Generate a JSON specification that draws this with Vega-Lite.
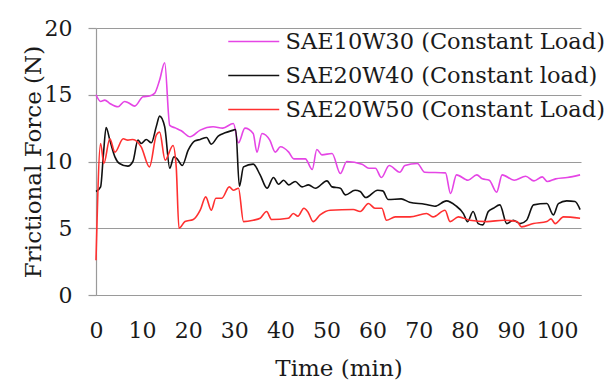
{
  "$schema": "https://vega.github.io/schema/vega-lite/v6.json",
  "width": 485,
  "height": 267,
  "autosize": "none",
  "padding": {"left": 96, "top": 28, "right": 25, "bottom": 87},
  "background": "white",
  "config": {
    "view": {"stroke": null},
    "font": "DejaVu Serif",
    "axis": {"labelFont": "DejaVu Serif", "titleFont": "DejaVu Serif", "labelColor": "#1a1a1a", "titleColor": "#1a1a1a", "titleFontWeight": "normal"},
    "legend": {"labelFont": "DejaVu Serif"}
  },
  "datasets": {
    "friction": [
      {"series": "SAE10W30 (Constant Load)", "time": 0, "force": 15.0},
      {"series": "SAE10W30 (Constant Load)", "time": 1, "force": 14.5},
      {"series": "SAE10W30 (Constant Load)", "time": 1.9, "force": 14.6},
      {"series": "SAE10W30 (Constant Load)", "time": 3, "force": 14.35},
      {"series": "SAE10W30 (Constant Load)", "time": 4.8, "force": 14.1},
      {"series": "SAE10W30 (Constant Load)", "time": 6.2, "force": 14.5},
      {"series": "SAE10W30 (Constant Load)", "time": 7, "force": 14.4},
      {"series": "SAE10W30 (Constant Load)", "time": 8.4, "force": 14.15},
      {"series": "SAE10W30 (Constant Load)", "time": 10.2, "force": 14.85},
      {"series": "SAE10W30 (Constant Load)", "time": 11.6, "force": 14.9},
      {"series": "SAE10W30 (Constant Load)", "time": 12.7, "force": 15.1},
      {"series": "SAE10W30 (Constant Load)", "time": 13.8, "force": 16.1},
      {"series": "SAE10W30 (Constant Load)", "time": 14.9, "force": 17.4},
      {"series": "SAE10W30 (Constant Load)", "time": 16, "force": 12.7},
      {"series": "SAE10W30 (Constant Load)", "time": 17.3, "force": 12.5},
      {"series": "SAE10W30 (Constant Load)", "time": 18.5, "force": 12.3},
      {"series": "SAE10W30 (Constant Load)", "time": 20.4, "force": 11.85},
      {"series": "SAE10W30 (Constant Load)", "time": 22.6, "force": 12.35},
      {"series": "SAE10W30 (Constant Load)", "time": 25.4, "force": 12.6},
      {"series": "SAE10W30 (Constant Load)", "time": 27.5, "force": 12.5},
      {"series": "SAE10W30 (Constant Load)", "time": 29.8, "force": 12.85},
      {"series": "SAE10W30 (Constant Load)", "time": 30.9, "force": 11.4},
      {"series": "SAE10W30 (Constant Load)", "time": 32.3, "force": 12.5},
      {"series": "SAE10W30 (Constant Load)", "time": 34.1, "force": 12.1},
      {"series": "SAE10W30 (Constant Load)", "time": 34.9, "force": 10.7},
      {"series": "SAE10W30 (Constant Load)", "time": 36, "force": 12.1},
      {"series": "SAE10W30 (Constant Load)", "time": 37.7, "force": 11.6},
      {"series": "SAE10W30 (Constant Load)", "time": 38.9, "force": 10.7},
      {"series": "SAE10W30 (Constant Load)", "time": 40, "force": 11.1},
      {"series": "SAE10W30 (Constant Load)", "time": 41.8, "force": 10.7},
      {"series": "SAE10W30 (Constant Load)", "time": 42.9, "force": 10.2},
      {"series": "SAE10W30 (Constant Load)", "time": 45.4, "force": 10.2},
      {"series": "SAE10W30 (Constant Load)", "time": 46.9, "force": 9.4},
      {"series": "SAE10W30 (Constant Load)", "time": 47.9, "force": 10.9},
      {"series": "SAE10W30 (Constant Load)", "time": 49, "force": 10.5},
      {"series": "SAE10W30 (Constant Load)", "time": 51.2, "force": 10.6},
      {"series": "SAE10W30 (Constant Load)", "time": 53, "force": 9.1},
      {"series": "SAE10W30 (Constant Load)", "time": 54.4, "force": 10.0},
      {"series": "SAE10W30 (Constant Load)", "time": 57.7, "force": 9.8},
      {"series": "SAE10W30 (Constant Load)", "time": 59.2, "force": 9.5},
      {"series": "SAE10W30 (Constant Load)", "time": 60.6, "force": 9.5},
      {"series": "SAE10W30 (Constant Load)", "time": 61.9, "force": 8.8},
      {"series": "SAE10W30 (Constant Load)", "time": 63.6, "force": 9.7},
      {"series": "SAE10W30 (Constant Load)", "time": 65.9, "force": 9.2},
      {"series": "SAE10W30 (Constant Load)", "time": 67, "force": 9.7},
      {"series": "SAE10W30 (Constant Load)", "time": 69.7, "force": 9.85},
      {"series": "SAE10W30 (Constant Load)", "time": 71.3, "force": 9.2},
      {"series": "SAE10W30 (Constant Load)", "time": 75.8, "force": 9.15},
      {"series": "SAE10W30 (Constant Load)", "time": 76.9, "force": 7.6},
      {"series": "SAE10W30 (Constant Load)", "time": 78.2, "force": 9.0},
      {"series": "SAE10W30 (Constant Load)", "time": 80.7, "force": 8.6},
      {"series": "SAE10W30 (Constant Load)", "time": 82.6, "force": 9.0},
      {"series": "SAE10W30 (Constant Load)", "time": 83.8, "force": 8.7},
      {"series": "SAE10W30 (Constant Load)", "time": 85.3, "force": 8.6},
      {"series": "SAE10W30 (Constant Load)", "time": 86.9, "force": 7.7},
      {"series": "SAE10W30 (Constant Load)", "time": 88.1, "force": 9.0},
      {"series": "SAE10W30 (Constant Load)", "time": 90.7, "force": 8.6},
      {"series": "SAE10W30 (Constant Load)", "time": 93.2, "force": 8.9},
      {"series": "SAE10W30 (Constant Load)", "time": 95, "force": 8.55},
      {"series": "SAE10W30 (Constant Load)", "time": 96.8, "force": 8.85},
      {"series": "SAE10W30 (Constant Load)", "time": 97.9, "force": 8.5},
      {"series": "SAE10W30 (Constant Load)", "time": 99.7, "force": 8.7},
      {"series": "SAE10W30 (Constant Load)", "time": 102.2, "force": 8.8},
      {"series": "SAE10W30 (Constant Load)", "time": 105, "force": 9.0},

      {"series": "SAE20W40 (Constant load)", "time": 0, "force": 7.75},
      {"series": "SAE20W40 (Constant load)", "time": 1, "force": 8.1},
      {"series": "SAE20W40 (Constant load)", "time": 1.6, "force": 10.5},
      {"series": "SAE20W40 (Constant load)", "time": 2.2, "force": 12.55},
      {"series": "SAE20W40 (Constant load)", "time": 3, "force": 11.6},
      {"series": "SAE20W40 (Constant load)", "time": 4.1, "force": 10.35},
      {"series": "SAE20W40 (Constant load)", "time": 5.1, "force": 9.85},
      {"series": "SAE20W40 (Constant load)", "time": 6.9, "force": 9.65},
      {"series": "SAE20W40 (Constant load)", "time": 8, "force": 10.0},
      {"series": "SAE20W40 (Constant load)", "time": 9.1, "force": 11.6},
      {"series": "SAE20W40 (Constant load)", "time": 9.8, "force": 11.35},
      {"series": "SAE20W40 (Constant load)", "time": 10.9, "force": 11.65},
      {"series": "SAE20W40 (Constant load)", "time": 12, "force": 11.4},
      {"series": "SAE20W40 (Constant load)", "time": 13.1, "force": 12.65},
      {"series": "SAE20W40 (Constant load)", "time": 13.8, "force": 13.4},
      {"series": "SAE20W40 (Constant load)", "time": 14.9, "force": 12.6},
      {"series": "SAE20W40 (Constant load)", "time": 16, "force": 9.5},
      {"series": "SAE20W40 (Constant load)", "time": 16.9, "force": 10.35},
      {"series": "SAE20W40 (Constant load)", "time": 17.6, "force": 10.2},
      {"series": "SAE20W40 (Constant load)", "time": 18.7, "force": 9.7},
      {"series": "SAE20W40 (Constant load)", "time": 20, "force": 10.85},
      {"series": "SAE20W40 (Constant load)", "time": 21.5, "force": 11.55},
      {"series": "SAE20W40 (Constant load)", "time": 22.6, "force": 11.65},
      {"series": "SAE20W40 (Constant load)", "time": 24, "force": 11.8},
      {"series": "SAE20W40 (Constant load)", "time": 25, "force": 11.3},
      {"series": "SAE20W40 (Constant load)", "time": 26.5, "force": 11.9},
      {"series": "SAE20W40 (Constant load)", "time": 28, "force": 12.15},
      {"series": "SAE20W40 (Constant load)", "time": 29.8, "force": 12.35},
      {"series": "SAE20W40 (Constant load)", "time": 30.3, "force": 12.4},
      {"series": "SAE20W40 (Constant load)", "time": 31.1, "force": 8.15},
      {"series": "SAE20W40 (Constant load)", "time": 32, "force": 9.6},
      {"series": "SAE20W40 (Constant load)", "time": 34.1, "force": 9.8},
      {"series": "SAE20W40 (Constant load)", "time": 35.6, "force": 9.0},
      {"series": "SAE20W40 (Constant load)", "time": 37.1, "force": 8.0},
      {"series": "SAE20W40 (Constant load)", "time": 38.5, "force": 8.8},
      {"series": "SAE20W40 (Constant load)", "time": 39.6, "force": 8.3},
      {"series": "SAE20W40 (Constant load)", "time": 40.7, "force": 8.6},
      {"series": "SAE20W40 (Constant load)", "time": 41.8, "force": 8.25},
      {"series": "SAE20W40 (Constant load)", "time": 43.2, "force": 8.5},
      {"series": "SAE20W40 (Constant load)", "time": 44.7, "force": 8.1},
      {"series": "SAE20W40 (Constant load)", "time": 46.1, "force": 8.25},
      {"series": "SAE20W40 (Constant load)", "time": 47.6, "force": 8.0},
      {"series": "SAE20W40 (Constant load)", "time": 50.1, "force": 8.55},
      {"series": "SAE20W40 (Constant load)", "time": 51.2, "force": 8.1},
      {"series": "SAE20W40 (Constant load)", "time": 53, "force": 8.0},
      {"series": "SAE20W40 (Constant load)", "time": 54.1, "force": 7.5},
      {"series": "SAE20W40 (Constant load)", "time": 56.2, "force": 7.85},
      {"series": "SAE20W40 (Constant load)", "time": 57.3, "force": 7.75},
      {"series": "SAE20W40 (Constant load)", "time": 58.5, "force": 7.3},
      {"series": "SAE20W40 (Constant load)", "time": 61.1, "force": 7.85},
      {"series": "SAE20W40 (Constant load)", "time": 62.2, "force": 7.8},
      {"series": "SAE20W40 (Constant load)", "time": 63.4, "force": 7.15},
      {"series": "SAE20W40 (Constant load)", "time": 66.2, "force": 7.2},
      {"series": "SAE20W40 (Constant load)", "time": 68, "force": 6.95},
      {"series": "SAE20W40 (Constant load)", "time": 71.3, "force": 6.8},
      {"series": "SAE20W40 (Constant load)", "time": 73.5, "force": 6.65},
      {"series": "SAE20W40 (Constant load)", "time": 76, "force": 7.05},
      {"series": "SAE20W40 (Constant load)", "time": 78, "force": 6.7},
      {"series": "SAE20W40 (Constant load)", "time": 79.7, "force": 6.1},
      {"series": "SAE20W40 (Constant load)", "time": 80.6, "force": 5.5},
      {"series": "SAE20W40 (Constant load)", "time": 81.8, "force": 6.25},
      {"series": "SAE20W40 (Constant load)", "time": 82.9, "force": 5.35},
      {"series": "SAE20W40 (Constant load)", "time": 83.9, "force": 5.25},
      {"series": "SAE20W40 (Constant load)", "time": 85.1, "force": 6.25},
      {"series": "SAE20W40 (Constant load)", "time": 86.2, "force": 6.5},
      {"series": "SAE20W40 (Constant load)", "time": 87.6, "force": 6.75},
      {"series": "SAE20W40 (Constant load)", "time": 89.1, "force": 5.35},
      {"series": "SAE20W40 (Constant load)", "time": 90.5, "force": 5.6},
      {"series": "SAE20W40 (Constant load)", "time": 92, "force": 5.35},
      {"series": "SAE20W40 (Constant load)", "time": 93.4, "force": 5.6},
      {"series": "SAE20W40 (Constant load)", "time": 94.9, "force": 6.75},
      {"series": "SAE20W40 (Constant load)", "time": 97.8, "force": 6.85},
      {"series": "SAE20W40 (Constant load)", "time": 99.2, "force": 6.0},
      {"series": "SAE20W40 (Constant load)", "time": 100.3, "force": 6.85},
      {"series": "SAE20W40 (Constant load)", "time": 102.1, "force": 7.05},
      {"series": "SAE20W40 (Constant load)", "time": 103.9, "force": 7.0},
      {"series": "SAE20W40 (Constant load)", "time": 105, "force": 6.4},

      {"series": "SAE20W50 (Constant Load)", "time": 0, "force": 2.6},
      {"series": "SAE20W50 (Constant Load)", "time": 1, "force": 11.35},
      {"series": "SAE20W50 (Constant Load)", "time": 1.7, "force": 9.85},
      {"series": "SAE20W50 (Constant Load)", "time": 3, "force": 11.7},
      {"series": "SAE20W50 (Constant Load)", "time": 4.1, "force": 10.7},
      {"series": "SAE20W50 (Constant Load)", "time": 5.9, "force": 11.7},
      {"series": "SAE20W50 (Constant Load)", "time": 6.9, "force": 11.6},
      {"series": "SAE20W50 (Constant Load)", "time": 8, "force": 11.65},
      {"series": "SAE20W50 (Constant Load)", "time": 9.8, "force": 11.1},
      {"series": "SAE20W50 (Constant Load)", "time": 11.6, "force": 9.6},
      {"series": "SAE20W50 (Constant Load)", "time": 13.1, "force": 12.0},
      {"series": "SAE20W50 (Constant Load)", "time": 13.8, "force": 12.2},
      {"series": "SAE20W50 (Constant Load)", "time": 15, "force": 10.1},
      {"series": "SAE20W50 (Constant Load)", "time": 16.7, "force": 11.2},
      {"series": "SAE20W50 (Constant Load)", "time": 17.4, "force": 9.6},
      {"series": "SAE20W50 (Constant Load)", "time": 18, "force": 5.0},
      {"series": "SAE20W50 (Constant Load)", "time": 19.3, "force": 5.5},
      {"series": "SAE20W50 (Constant Load)", "time": 21.1, "force": 5.65},
      {"series": "SAE20W50 (Constant Load)", "time": 22.6, "force": 6.35},
      {"series": "SAE20W50 (Constant Load)", "time": 23.8, "force": 7.35},
      {"series": "SAE20W50 (Constant Load)", "time": 25, "force": 6.35},
      {"series": "SAE20W50 (Constant Load)", "time": 26, "force": 7.25},
      {"series": "SAE20W50 (Constant Load)", "time": 27.3, "force": 7.25},
      {"series": "SAE20W50 (Constant Load)", "time": 28.9, "force": 8.1},
      {"series": "SAE20W50 (Constant Load)", "time": 29.8, "force": 7.85},
      {"series": "SAE20W50 (Constant Load)", "time": 30.9, "force": 8.0},
      {"series": "SAE20W50 (Constant Load)", "time": 32, "force": 5.5},
      {"series": "SAE20W50 (Constant Load)", "time": 34.1, "force": 5.6},
      {"series": "SAE20W50 (Constant Load)", "time": 35.6, "force": 5.75},
      {"series": "SAE20W50 (Constant Load)", "time": 37, "force": 6.25},
      {"series": "SAE20W50 (Constant Load)", "time": 38.1, "force": 5.65},
      {"series": "SAE20W50 (Constant Load)", "time": 41.7, "force": 5.75},
      {"series": "SAE20W50 (Constant Load)", "time": 42.8, "force": 6.1},
      {"series": "SAE20W50 (Constant Load)", "time": 43.8, "force": 5.9},
      {"series": "SAE20W50 (Constant Load)", "time": 45.1, "force": 6.5},
      {"series": "SAE20W50 (Constant Load)", "time": 46, "force": 6.2},
      {"series": "SAE20W50 (Constant Load)", "time": 47.1, "force": 5.5},
      {"series": "SAE20W50 (Constant Load)", "time": 48.6, "force": 6.0},
      {"series": "SAE20W50 (Constant Load)", "time": 50.8, "force": 6.35},
      {"series": "SAE20W50 (Constant Load)", "time": 55.8, "force": 6.4},
      {"series": "SAE20W50 (Constant Load)", "time": 57.3, "force": 6.25},
      {"series": "SAE20W50 (Constant Load)", "time": 59.1, "force": 6.85},
      {"series": "SAE20W50 (Constant Load)", "time": 60.5, "force": 6.5},
      {"series": "SAE20W50 (Constant Load)", "time": 62, "force": 6.5},
      {"series": "SAE20W50 (Constant Load)", "time": 63, "force": 5.6},
      {"series": "SAE20W50 (Constant Load)", "time": 64.9, "force": 5.85},
      {"series": "SAE20W50 (Constant Load)", "time": 68.1, "force": 5.85},
      {"series": "SAE20W50 (Constant Load)", "time": 71.7, "force": 6.1},
      {"series": "SAE20W50 (Constant Load)", "time": 73.1, "force": 5.85},
      {"series": "SAE20W50 (Constant Load)", "time": 75.7, "force": 6.35},
      {"series": "SAE20W50 (Constant Load)", "time": 76.8, "force": 5.5},
      {"series": "SAE20W50 (Constant Load)", "time": 78.6, "force": 5.85},
      {"series": "SAE20W50 (Constant Load)", "time": 81.1, "force": 5.6},
      {"series": "SAE20W50 (Constant Load)", "time": 84.8, "force": 5.5},
      {"series": "SAE20W50 (Constant Load)", "time": 88.4, "force": 5.6},
      {"series": "SAE20W50 (Constant Load)", "time": 91.3, "force": 5.5},
      {"series": "SAE20W50 (Constant Load)", "time": 92.3, "force": 5.1},
      {"series": "SAE20W50 (Constant Load)", "time": 94.9, "force": 5.35},
      {"series": "SAE20W50 (Constant Load)", "time": 97.8, "force": 5.5},
      {"series": "SAE20W50 (Constant Load)", "time": 98.7, "force": 5.7},
      {"series": "SAE20W50 (Constant Load)", "time": 99.6, "force": 5.35},
      {"series": "SAE20W50 (Constant Load)", "time": 101.4, "force": 5.85},
      {"series": "SAE20W50 (Constant Load)", "time": 105, "force": 5.75}
    ]
  },
  "data": {"name": "friction"},
  "mark": {"type": "line", "interpolate": "monotone", "strokeWidth": 1.6},
  "encoding": {
    "x": {
      "field": "time", "type": "quantitative",
      "scale": {"domain": [0, 105.2], "nice": false, "zero": false},
      "axis": {
        "title": "Time (min)", "titleFontSize": 23, "titleY": 73, "titleBaseline": "middle",
        "values": [0, 10, 20, 30, 40, 50, 60, 70, 80, 90, 100],
        "labelFontSize": 22, "labelBaseline": "middle", "labelPadding": 35,
        "ticks": false, "tickSize": 0, "grid": false,
        "domainColor": "#9a9a9a", "domainWidth": 1.2, "labelFlush": false
      }
    },
    "y": {
      "field": "force", "type": "quantitative",
      "scale": {"domain": [0, 20], "nice": false},
      "axis": {
        "title": "Frictional Force (N)", "titleFontSize": 23, "titleX": -63, "titleBaseline": "middle",
        "values": [0, 5, 10, 15, 20],
        "labelFontSize": 22, "labelPadding": 16, "tickSize": 8,
        "tickColor": "#9a9a9a", "gridColor": "#9a9a9a", "grid": true, "gridWidth": 1.2, "tickWidth": 1.2,
        "domainColor": "#9a9a9a", "domainWidth": 1.2
      }
    },
    "color": {
      "field": "series", "type": "nominal",
      "scale": {
        "domain": ["SAE10W30 (Constant Load)", "SAE20W40 (Constant load)", "SAE20W50 (Constant Load)"],
        "range": ["#E545E5", "#111111", "#FF3030"]
      },
      "legend": {
        "title": null, "orient": "none", "legendX": 143.75, "legendY": -0.5,
        "symbolType": "M-2,0H2", "symbolSize": 650, "symbolStrokeWidth": 1.6,
        "labelFontSize": 22.5, "labelColor": "#1a1a1a", "labelOffset": 17.75, "labelLimit": 0,
        "rowPadding": 8, "padding": 0
      }
    }
  }
}
